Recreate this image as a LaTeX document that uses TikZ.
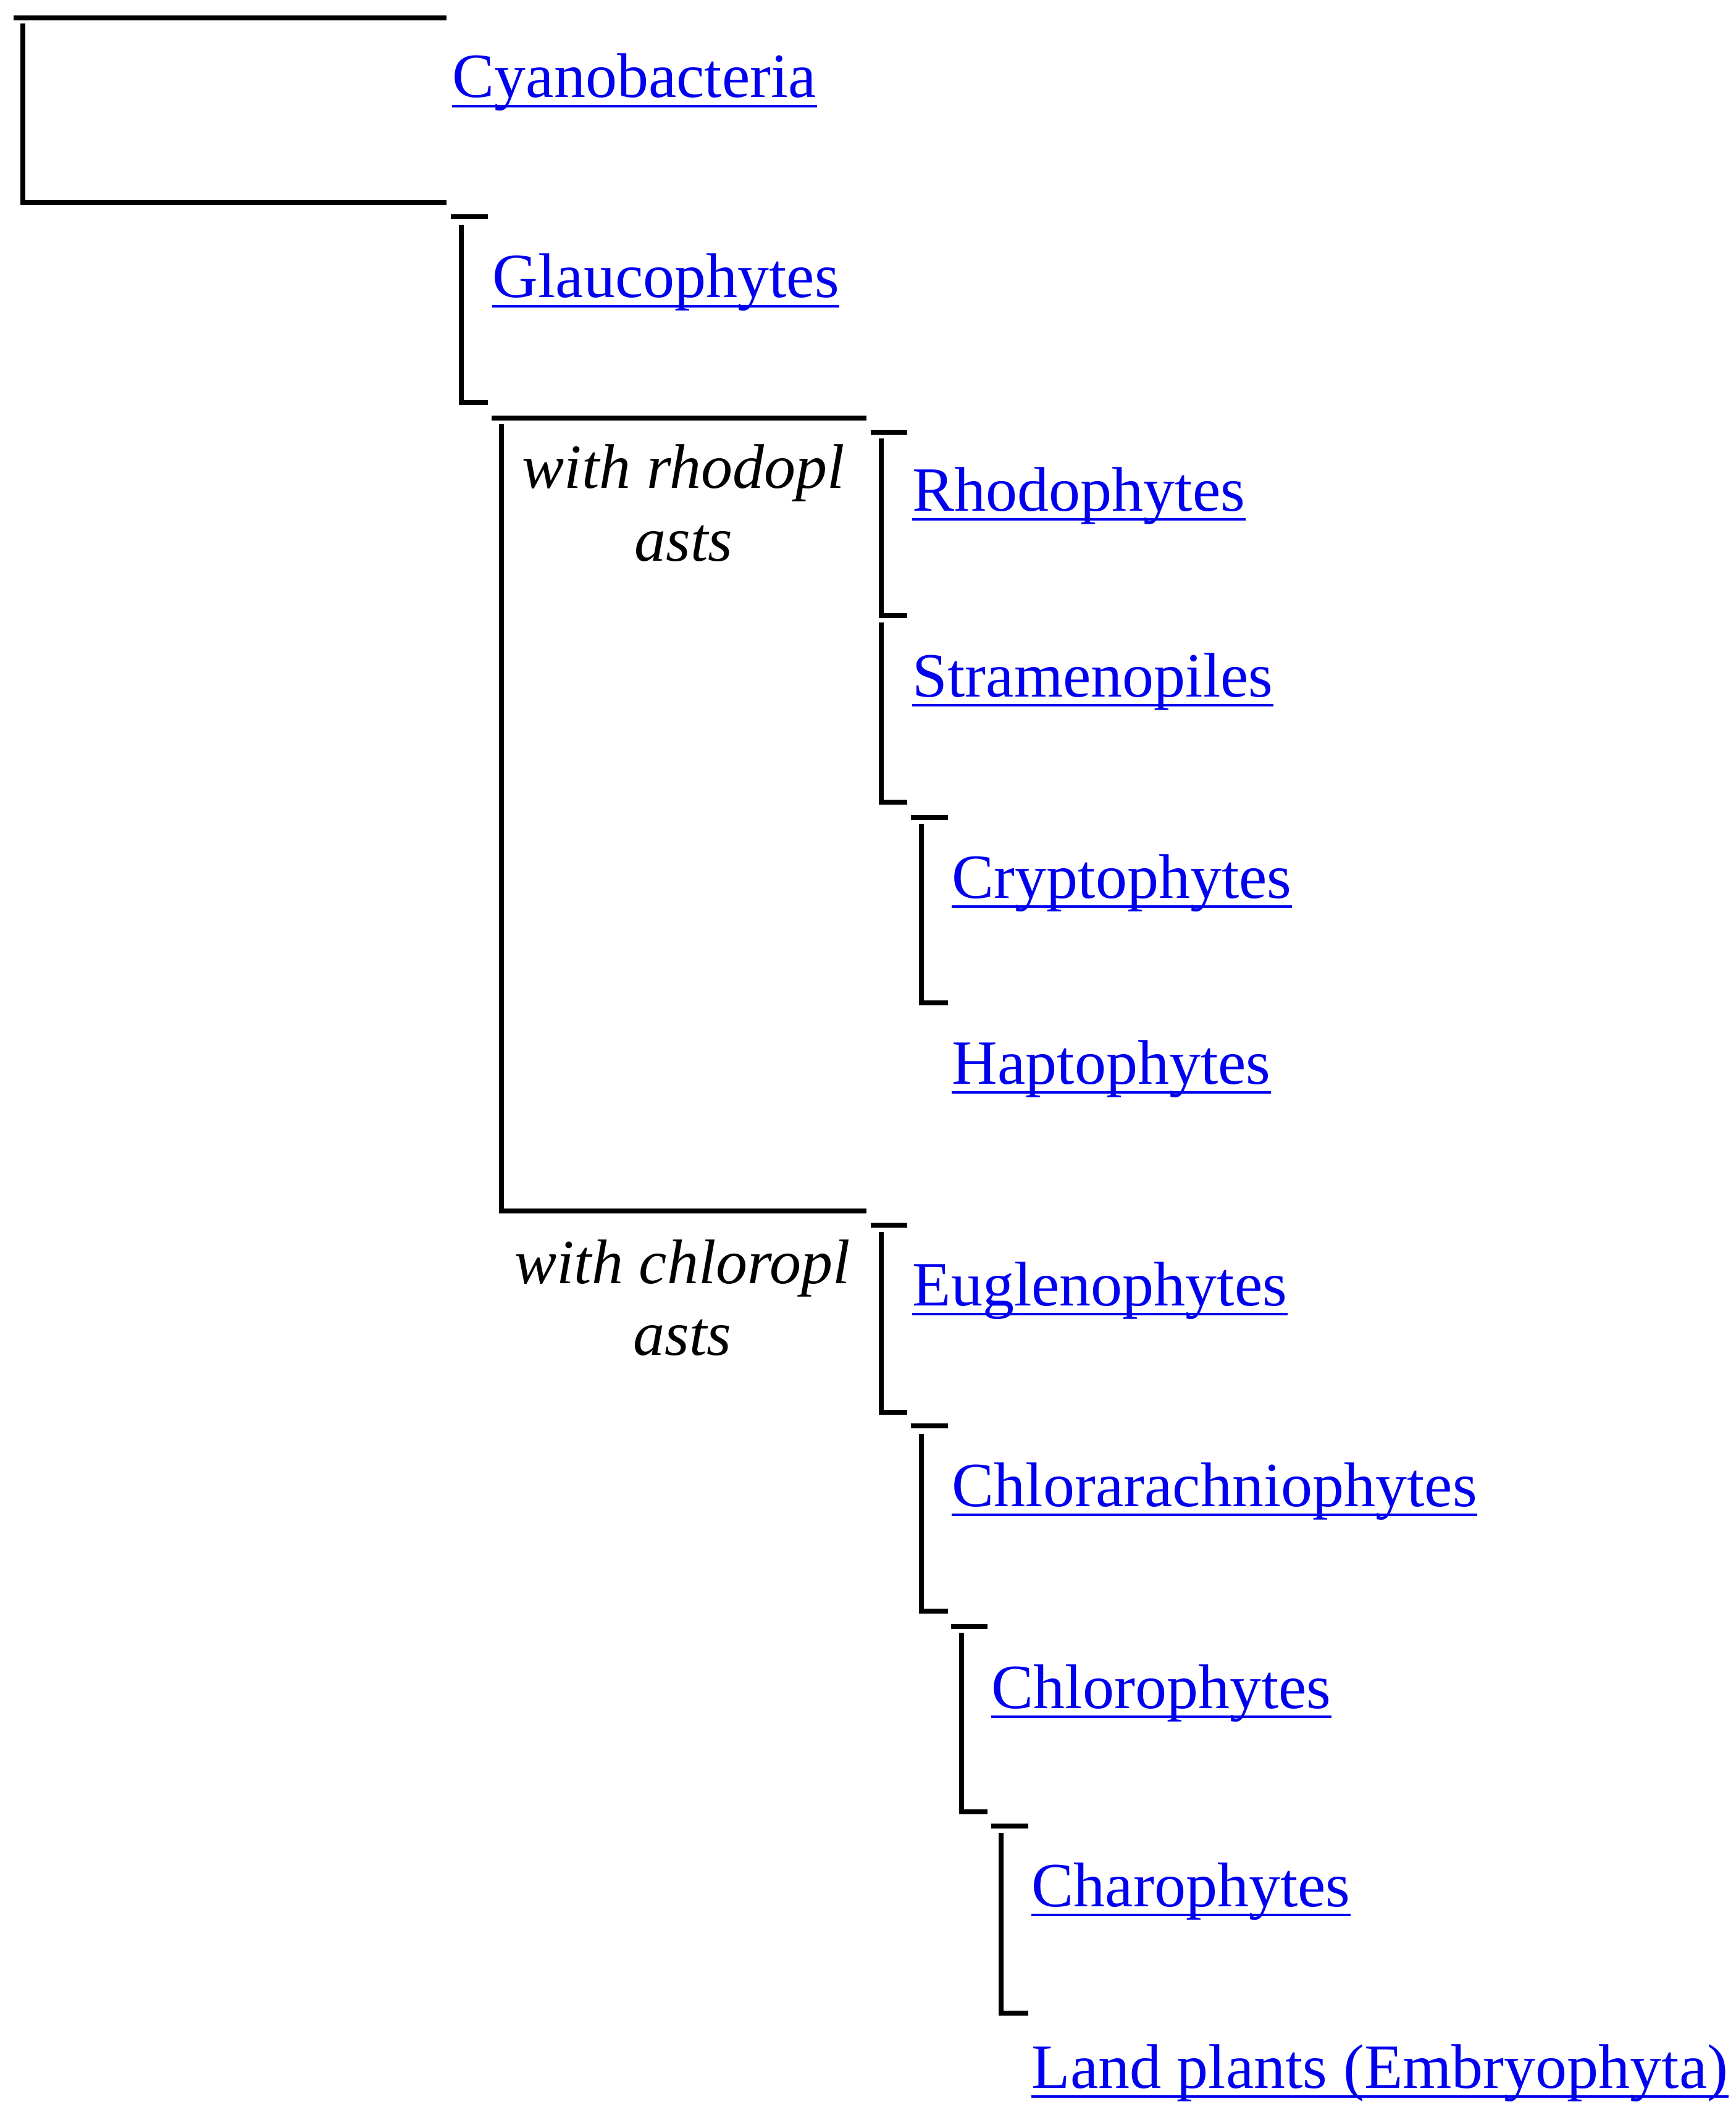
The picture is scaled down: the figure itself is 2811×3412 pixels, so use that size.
\documentclass[tikz,border=0pt]{standalone}
\usepackage{fontspec}
\setmainfont{Liberation Serif}
\definecolor{linkblue}{HTML}{0000EE}
\begin{document}
\begin{tikzpicture}[x=0.25pt,y=-0.25pt,
  branch/.style={line width=1.9pt,black,line cap=butt,line join=miter},
  taxon/.style={anchor=base west,inner sep=0pt,text=linkblue,font=\fontsize{25.5}{30}\selectfont},
  clade/.style={anchor=base,inner sep=0pt,text=black,font=\fontsize{25.5}{30}\selectfont\itshape},
  ul/.style={line width=1.1pt,linkblue}]
\useasboundingbox[fill=white] (0,0) rectangle (2811,3412);

% tree lines
\draw[branch] (22,29) -- (723,29);
\draw[branch] (37,38) -- (37,328) -- (723,328);
\draw[branch] (730,351) -- (790,351);
\draw[branch] (747,364) -- (747,652) -- (790,652);
\draw[branch] (796,677) -- (1403,677);
\draw[branch] (812,687) -- (812,1961) -- (1403,1961);
\draw[branch] (1410,700) -- (1469,700);
\draw[branch] (1427,710) -- (1427,997) -- (1469,997);
\draw[branch] (1427,1008) -- (1427,1299) -- (1469,1299);
\draw[branch] (1475,1324) -- (1535,1324);
\draw[branch] (1492,1334) -- (1492,1624) -- (1535,1624);
\draw[branch] (1410,1984) -- (1469,1984);
\draw[branch] (1427,1995) -- (1427,2287) -- (1469,2287);
\draw[branch] (1475,2309) -- (1535,2309);
\draw[branch] (1492,2322) -- (1492,2609) -- (1535,2609);
\draw[branch] (1540,2634) -- (1599,2634);
\draw[branch] (1557,2644) -- (1557,2934) -- (1599,2934);
\draw[branch] (1605,2957) -- (1665,2957);
\draw[branch] (1621,2968) -- (1621,3260) -- (1665,3260);

% taxa
\node[taxon] (cya) at (732,158) {Cyanobacteria};
\node[taxon] (gla) at (797,482) {Glaucophytes};
\node[taxon] (rho) at (1477,827) {Rhodophytes};
\node[taxon] (str) at (1477,1128) {Stramenopiles};
\node[taxon] (cry) at (1541,1454) {Cryptophytes};
\node[taxon] (hap) at (1541,1755) {Haptophytes};
\node[taxon] (eug) at (1477,2114) {Euglenophytes};
\node[taxon] (chr) at (1541,2439) {Chlorarachniophytes};
\node[taxon] (chl) at (1605,2766) {Chlorophytes};
\node[taxon] (cha) at (1670,3087) {Charophytes};
\node[taxon] (lan) at (1670,3381) {Land plants (Embryophyta)};

\foreach \n in {cya,gla,rho,str,cry,hap,eug,chr,chl,cha,lan}
  \draw[ul] ([yshift=-3.5pt]\n.base west) -- ([yshift=-3.5pt]\n.base east);

% clade labels
\node[clade] (rl1) at (1107,790) {with rhodopl};
\node[clade] (rl2) at (1107,908) {asts};
\node[clade] (cl1) at (1105,2078) {with chloropl};
\node[clade] (cl2) at (1105,2194) {asts};
\end{tikzpicture}
\end{document}
